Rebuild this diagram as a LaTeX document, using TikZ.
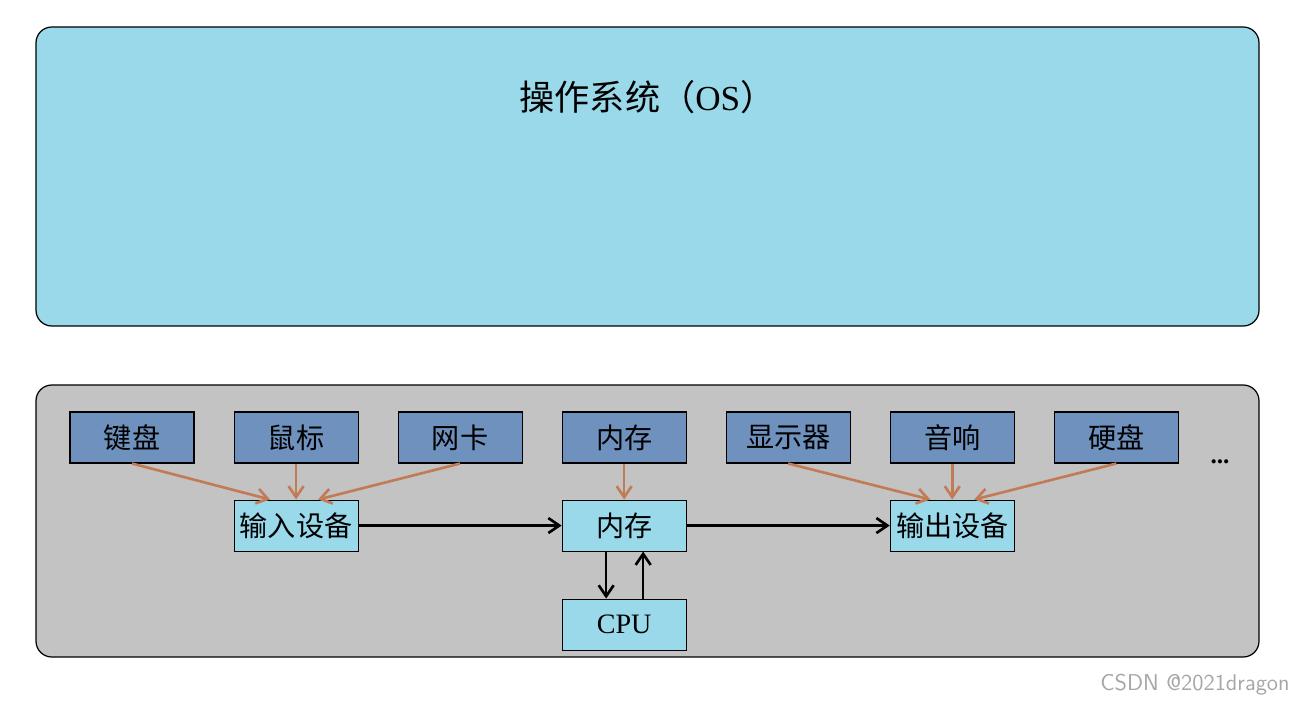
\documentclass[tikz,border=0pt]{standalone}
\usepackage{fontspec}
\setmainfont{Liberation Serif}
\newfontfamily\cjk{Noto Sans CJK SC}
\usepackage{xcolor}
\usepackage{tikz}
\usetikzlibrary{positioning,arrows.meta,calc}
\definecolor{OsBlue}{HTML}{99D9EA}
\definecolor{DevBlue}{HTML}{6F91BE}
\definecolor{HwGray}{HTML}{C3C3C3}
\definecolor{FeedBrown}{HTML}{C27B57}

\begin{document}
\begin{tikzpicture}[
  node distance=0.72cm and 0.78cm,
  layer/.style={draw=black, line width=0.7pt, rounded corners=9pt},
  dev/.style={draw=black, line width=0.6pt, fill=DevBlue, minimum width=2.48cm,
    minimum height=1.02cm, inner sep=0pt, align=center, font=\fontsize{16}{18}\selectfont\cjk},
  unit/.style={dev, fill=OsBlue},
  feed/.style={-{Straight Barb[length=2.2mm,width=3mm]}, line width=1.5pt, draw=FeedBrown},
  flow/.style={-{Straight Barb[length=2.2mm,width=3mm]}, line width=1.5pt, draw=black}
]
  \useasboundingbox (0,0) rectangle (26,-14.12);

  % operating system layer
  \draw[layer, fill=OsBlue] (0.72,-0.54) rectangle (25.18,-6.52);
  \node[font=\fontsize{20}{24}\selectfont] (os) at (12.95,-1.94) {{\cjk 操作系统（}OS{\cjk ）}};

  % hardware layer
  \draw[layer, fill=HwGray] (0.72,-7.70) rectangle (25.18,-13.14);

  \node[dev] (kbd) at (2.64,-8.75) {键盘};
  \node[dev, right=of kbd] (mouse) {鼠标};
  \node[dev, right=of mouse] (nic) {网卡};
  \node[dev, right=of nic] (ram) {内存};
  \node[dev, right=of ram] (disp) {显示器};
  \node[dev, right=of disp] (spk) {音响};
  \node[dev, right=of spk] (hdd) {硬盘};
  \node[font=\bfseries\Large] (more) at (24.4,-9.24) {...};

  \node[unit, below=of mouse] (in) {输入设备};
  \node[unit, below=of ram] (mem) {内存};
  \node[unit, below=of spk] (out) {输出设备};
  \node[unit, below=0.94cm of mem, font=\fontsize{16}{18}\selectfont] (cpu) {CPU};

  \draw[feed] (kbd.south) -- ($(in.north)+(-0.52,0)$);
  \draw[feed] (mouse) -- (in);
  \draw[feed] (nic.south) -- ($(in.north)+(0.44,0)$);
  \draw[feed] (ram) -- (mem);
  \draw[feed] (disp.south) -- ($(out.north)+(-0.44,0)$);
  \draw[feed] (spk) -- (out);
  \draw[feed] (hdd.south) -- ($(out.north)+(0.44,0)$);

  \draw[flow] (in) -- (mem);
  \draw[flow] (mem) -- (out);
  \draw[flow] ($(mem.south)+(-0.36,0)$) -- ($(cpu.north)+(-0.36,0)$);
  \draw[flow] ($(cpu.north)+(0.38,0)$) -- ($(mem.south)+(0.38,0)$);

  \node[font=\fontsize{13}{15}\selectfont\sffamily, text=black!35] (mark) at (23.9,-13.7) {CSDN @2021dragon};
\end{tikzpicture}
\end{document}
